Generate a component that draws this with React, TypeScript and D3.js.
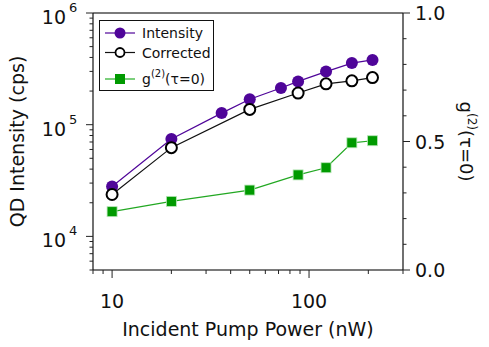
import React, { useEffect, useRef } from "react";
import * as d3 from "d3";

// Incident pump power (nW)
const powerIntensity = [10, 20, 36, 50, 72, 88, 122, 165, 210];
const intensity = [28000, 74500, 127000, 169000, 213000, 244000, 299000, 356000, 380000];
const powerCorrected = [10, 20, 50, 88, 122, 165, 210];
const corrected = [23700, 62300, 137000, 192000, 232000, 247000, 264000];
const g2 = [0.227, 0.267, 0.311, 0.37, 0.398, 0.495, 0.503];

const xMajor = [10, 100];
const yMajor = [1e4, 1e5, 1e6];
const rightMajor = [0, 0.5, 1.0];

const PURPLE = "#4f0599";
const GREEN = "#009a00";
const FONT = "DejaVu Sans, Verdana, sans-serif";

const App = () => {
  const svgRef = useRef<SVGSVGElement>(null);

  useEffect(() => {
    const width = 489;
    const height = 347;
    const margin = { top: 13, right: 86, bottom: 77, left: 93 };

    const svg = d3.select(svgRef.current).attr("width", width).attr("height", height);
    svg.selectAll("*").remove();

    const x = d3.scaleLog().domain([8, 300]).range([margin.left, width - margin.right]);
    const y = d3.scaleLog().domain([5000, 1e6]).range([height - margin.bottom, margin.top]);
    const y2 = d3.scaleLinear().domain([0, 1]).range([height - margin.bottom, margin.top]);

    const x0 = margin.left;
    const x1 = width - margin.right;
    const yb = height - margin.bottom;
    const yt = margin.top;

    // frame: grey top/bottom, black sides
    svg.append("line").attr("x1", x0).attr("x2", x1).attr("y1", yt).attr("y2", yt)
      .attr("stroke", "#7a7a7a").attr("stroke-width", 2);
    svg.append("line").attr("x1", x0).attr("x2", x1).attr("y1", yb).attr("y2", yb)
      .attr("stroke", "#7a7a7a").attr("stroke-width", 2);
    svg.append("line").attr("x1", x0).attr("x2", x0).attr("y1", yt).attr("y2", yb)
      .attr("stroke", "#111").attr("stroke-width", 1.2);
    svg.append("line").attr("x1", x1).attr("x2", x1).attr("y1", yt).attr("y2", yb)
      .attr("stroke", "#111").attr("stroke-width", 1.2);

    // left ticks
    const yTicks = y.ticks();
    svg.append("g").selectAll("line").data(yTicks).enter().append("line")
      .attr("x1", (d) => x0 - (yMajor.includes(d) ? 7 : 3.5)).attr("x2", x0)
      .attr("y1", (d) => y(d)).attr("y2", (d) => y(d))
      .attr("stroke", "#222").attr("stroke-width", 1);
    const yLab = svg.append("g").selectAll("text").data(yMajor).enter().append("text")
      .attr("x", 66).attr("y", (d) => y(d) + 11)
      .attr("text-anchor", "end").attr("font-family", FONT).attr("font-size", 19).attr("fill", "#111")
      .text("10");
    svg.append("g").selectAll("text").data(yMajor).enter().append("text")
      .attr("x", 69).attr("y", (d) => y(d) - 1)
      .attr("font-family", FONT).attr("font-size", 13).attr("fill", "#111")
      .text((d) => String(Math.round(Math.log10(d))));

    // bottom ticks
    const xTicks = x.ticks();
    svg.append("g").selectAll("line").data(xTicks).enter().append("line")
      .attr("x1", (d) => x(d)).attr("x2", (d) => x(d))
      .attr("y1", yb).attr("y2", (d) => yb + (xMajor.includes(d) ? 8 : 4))
      .attr("stroke", "#222").attr("stroke-width", 1);
    svg.append("g").selectAll("text").data(xMajor).enter().append("text")
      .attr("x", (d) => x(d)).attr("y", 308)
      .attr("text-anchor", "middle").attr("font-family", FONT).attr("font-size", 19).attr("fill", "#111")
      .text((d) => String(d));

    // right ticks
    const rTicks = d3.range(0, 11).map((i) => i / 10);
    svg.append("g").selectAll("line").data(rTicks).enter().append("line")
      .attr("x1", x1).attr("x2", (d) => x1 + (i5(d) ? 7 : 3.5))
      .attr("y1", (d) => y2(d)).attr("y2", (d) => y2(d))
      .attr("stroke", "#222").attr("stroke-width", 1);
    function i5(d: number) {
      return rightMajor.some((m) => Math.abs(m - d) < 1e-6);
    }
    svg.append("g").selectAll("text").data(rightMajor).enter().append("text")
      .attr("x", x1 + 12).attr("y", (d) => y2(d) + 7)
      .attr("font-family", FONT).attr("font-size", 19).attr("fill", "#111")
      .text((d) => d.toFixed(1));

    // axis titles
    svg.append("text")
      .attr("transform", `translate(24,${(yt + yb) / 2}) rotate(-90)`)
      .attr("text-anchor", "middle").attr("font-family", FONT).attr("font-size", 19).attr("fill", "#111")
      .text("QD Intensity (cps)");
    svg.append("text")
      .attr("x", (x0 + x1) / 2).attr("y", 336)
      .attr("text-anchor", "middle").attr("font-family", FONT).attr("font-size", 19).attr("fill", "#111")
      .text("Incident Pump Power (nW)");
    const rt = svg.append("text")
      .attr("transform", `translate(460,${(yt + yb) / 2}) rotate(90)`)
      .attr("text-anchor", "middle").attr("font-family", FONT).attr("font-size", 18).attr("fill", "#111");
    rt.append("tspan").text("g");
    rt.append("tspan").attr("font-size", 12).attr("dy", -8).text("(2)");
    rt.append("tspan").attr("dy", 8).text("(\u03c4=0)");

    // series
    const lineI = d3.line<number>().x((d, i) => x(powerIntensity[i])).y((d) => y(d));
    const lineC = d3.line<number>().x((d, i) => x(powerCorrected[i])).y((d) => y(d));
    const lineG = d3.line<number>().x((d, i) => x(powerCorrected[i])).y((d) => y2(d));

    svg.append("path").datum(g2).attr("d", lineG).attr("fill", "none")
      .attr("stroke", "#22a822").attr("stroke-width", 1.2);
    svg.append("g").selectAll("rect").data(g2).enter().append("rect")
      .attr("x", (d, i) => x(powerCorrected[i]) - 5).attr("y", (d) => y2(d) - 5)
      .attr("width", 10).attr("height", 10)
      .attr("fill", GREEN).attr("stroke", "#b8e6b8").attr("stroke-width", 0.8);

    svg.append("path").datum(intensity).attr("d", lineI).attr("fill", "none")
      .attr("stroke", PURPLE).attr("stroke-width", 1.2);
    svg.append("path").datum(corrected).attr("d", lineC).attr("fill", "none")
      .attr("stroke", "#111").attr("stroke-width", 1.2);

    svg.append("g").selectAll("circle").data(intensity).enter().append("circle")
      .attr("cx", (d, i) => x(powerIntensity[i])).attr("cy", (d) => y(d))
      .attr("r", 6).attr("fill", PURPLE);
    svg.append("g").selectAll("circle").data(corrected).enter().append("circle")
      .attr("cx", (d, i) => x(powerCorrected[i])).attr("cy", (d) => y(d))
      .attr("r", 5.5).attr("fill", "#fff").attr("stroke", "#000").attr("stroke-width", 2);

    // legend
    const leg = svg.append("g");
    leg.append("rect").attr("x", 99.5).attr("y", 20.5).attr("width", 114).attr("height", 70)
      .attr("fill", "#fff").attr("stroke", "#111").attr("stroke-width", 1);
    const rows = [
      { label: "Intensity", y: 33, line: PURPLE },
      { label: "Corrected", y: 52.5, line: "#111" },
      { label: "g2", y: 79, line: "#7ccf7c" },
    ];
    rows.forEach((r, k) => {
      leg.append("line").attr("x1", 105).attr("x2", 135).attr("y1", r.y).attr("y2", r.y)
        .attr("stroke", r.line).attr("stroke-width", k === 2 ? 2 : 1.2);
      if (k === 0) leg.append("circle").attr("cx", 120).attr("cy", r.y).attr("r", 5.5).attr("fill", PURPLE);
      if (k === 1) leg.append("circle").attr("cx", 120).attr("cy", r.y).attr("r", 4.5)
        .attr("fill", "#fff").attr("stroke", "#000").attr("stroke-width", 1.8);
      if (k === 2) leg.append("rect").attr("x", 115).attr("y", r.y - 5).attr("width", 10).attr("height", 10)
        .attr("fill", GREEN);
      const t = leg.append("text").attr("x", 142).attr("y", r.y + 5)
        .attr("font-family", FONT).attr("font-size", 14).attr("fill", "#111");
      if (k < 2) t.text(r.label);
      else {
        t.append("tspan").text("g");
        t.append("tspan").attr("font-size", 10).attr("dy", -7).text("(2)");
        t.append("tspan").attr("dy", 7).text("(\u03c4=0)");
      }
    });
    void yLab;
  }, []);

  return (
    <svg
      ref={svgRef}
      style={{ position: "absolute", left: 0, top: 0, display: "block", background: "#fff" }}
    ></svg>
  );
};

export default App;
